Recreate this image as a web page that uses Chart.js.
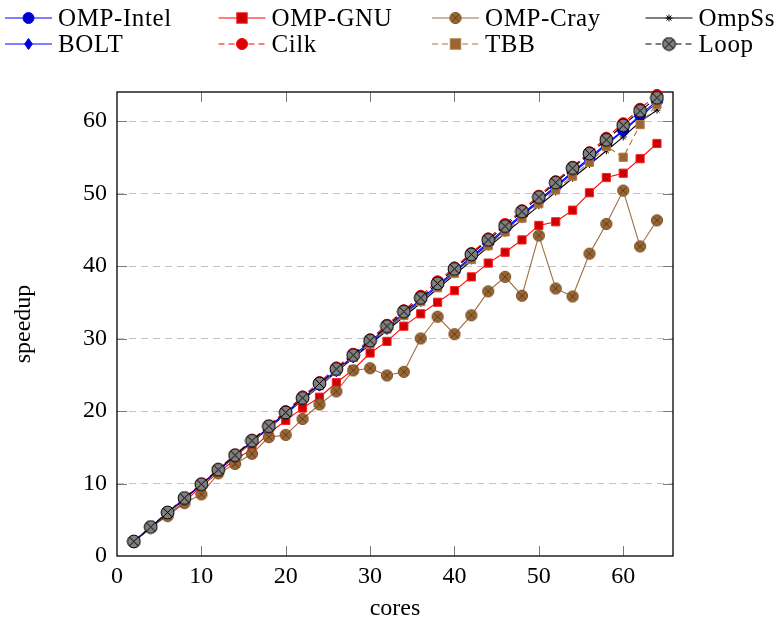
<!DOCTYPE html>
<html>
<head>
<meta charset="utf-8">
<script src="https://cdn.jsdelivr.net/npm/chart.js@4.4.1/dist/chart.umd.min.js"></script>
<style>
    body { margin: 0; background: #fff; }
</style>
</head>
<body>
<canvas id="chart" width="779" height="617"></canvas>
<script>
var CORES = [2, 4, 6, 8, 10, 12, 14, 16, 18, 20, 22, 24, 26, 28, 30, 32,
    34, 36, 38, 40, 42, 44, 46, 48, 50, 52, 54, 56, 58, 60, 62, 64];

var OMP_INTEL = [2.0, 4.0, 6.0, 7.9, 9.9, 11.9, 13.9, 15.8, 17.8, 19.8, 21.7, 23.7, 25.6, 27.6, 29.6, 31.5,
    33.5, 35.4, 37.4, 39.3, 41.3, 43.2, 45.2, 47.1, 49.1, 51.0, 53.0, 54.9, 56.9, 58.7, 60.8, 62.8];
var OMP_GNU = [2.0, 4.0, 5.6, 7.5, 9.6, 11.5, 13.3, 14.7, 16.9, 18.7, 20.4, 21.9, 23.9, 25.7, 28.0, 29.6,
    31.7, 33.4, 35.0, 36.6, 38.5, 40.4, 41.9, 43.6, 45.6, 46.1, 47.7, 50.1, 52.2, 52.8, 54.8, 56.9];
var OMP_CRAY = [2.0, 4.0, 5.5, 7.3, 8.5, 11.4, 12.7, 14.1, 16.4, 16.7, 18.9, 20.9, 22.7, 25.6, 25.9, 24.9,
    25.4, 30.0, 33.0, 30.6, 33.2, 36.5, 38.5, 35.9, 44.2, 36.9, 35.8, 41.7, 45.8, 50.4, 42.7, 46.3];
var OMPSS = [2.0, 3.9, 5.9, 7.9, 9.8, 11.8, 13.7, 15.7, 17.6, 19.6, 21.5, 23.4, 25.4, 27.3, 29.2, 31.1,
    33.0, 34.9, 36.9, 38.8, 40.7, 42.6, 44.5, 46.4, 48.3, 50.2, 52.1, 54.0, 55.9, 57.8, 59.9, 61.5];
var BOLT = [2.0, 4.0, 5.9, 7.9, 9.9, 11.8, 13.8, 15.7, 17.7, 19.6, 21.6, 23.5, 25.5, 27.4, 29.4, 31.3,
    33.3, 35.2, 37.2, 39.1, 41.1, 43.0, 45.0, 46.9, 48.9, 50.8, 52.8, 54.7, 56.7, 58.6, 60.6, 62.5];
var CILK = [2.0, 4.0, 6.0, 8.0, 10.0, 12.0, 14.0, 16.0, 18.0, 20.0, 22.0, 24.0, 26.0, 27.9, 29.9, 31.9,
    33.9, 35.9, 37.9, 39.8, 41.8, 43.8, 45.8, 47.7, 49.7, 51.7, 53.7, 55.7, 57.7, 59.7, 61.7, 63.6];
var TBB = [2.0, 4.0, 5.9, 7.9, 9.9, 11.8, 13.8, 15.7, 17.7, 19.6, 21.6, 23.5, 25.5, 27.4, 29.3, 31.3,
    33.2, 35.1, 37.0, 39.0, 40.9, 42.8, 44.7, 46.6, 48.6, 50.5, 52.4, 54.3, 56.5, 55.0, 59.5, 62.3];
var LOOP = [2.0, 4.0, 6.0, 8.0, 9.9, 11.9, 13.9, 15.9, 17.9, 19.8, 21.8, 23.8, 25.8, 27.7, 29.7, 31.7,
    33.7, 35.6, 37.6, 39.6, 41.6, 43.6, 45.5, 47.5, 49.5, 51.5, 53.5, 55.5, 57.4, 59.4, 61.4, 63.2];

var X_TICKS = [0, 10, 20, 30, 40, 50, 60];
var Y_TICKS = [0, 10, 20, 30, 40, 50, 60];

var FONT = "'Liberation Serif', 'Times New Roman', serif";

// circle with a cross inside (pgfplots otimes)
function otimes(r, fill, edge, cross) {
    var c = document.createElement('canvas');
    c.width = c.height = Math.ceil(2 * r + 2);
    var g = c.getContext('2d');
    var m = c.width / 2;
    g.beginPath();
    g.arc(m, m, r, 0, Math.PI * 2);
    g.fillStyle = fill;
    g.fill();
    g.lineWidth = 1;
    g.strokeStyle = edge;
    g.stroke();
    var d = r * 0.68;
    g.beginPath();
    g.moveTo(m - d, m - d); g.lineTo(m + d, m + d);
    g.moveTo(m - d, m + d); g.lineTo(m + d, m - d);
    g.strokeStyle = cross;
    g.stroke();
    return c;
}

var crayMark = otimes(5.6, '#996633', '#7d5228', '#5e3c1c');
var loopMark = otimes(6.4, '#808080', '#000000', '#000000');

function pts(ys) {
    return CORES.map(function (x, i) { return {x: x, y: ys[i]}; });
}

var series = [
    {label: 'OMP-Intel', data: OMP_INTEL, color: '#0000ff', fill: '#0000cc', edge: '#0000ff', style: 'circle', r: 5.5, dash: []},
    {label: 'OMP-GNU', data: OMP_GNU, color: '#ff0000', fill: '#cc0000', edge: '#ff2020', style: 'rect', r: 5.8, dash: []},
    {label: 'OMP-Cray', data: OMP_CRAY, color: '#9f6d3c', fill: '#996633', edge: '#996633', style: crayMark, r: 6, dash: []},
    {label: 'OmpSs', data: OMPSS, color: '#000000', fill: '#000000', edge: '#000000', style: 'star', r: 3.5, dash: []},
    {label: 'BOLT', data: BOLT, color: '#0000ff', fill: '#0000cc', edge: '#0000ff', style: 'rectRot', r: 5.5, dash: []},
    {label: 'Cilk', data: CILK, color: '#ff0000', fill: '#dd0000', edge: '#ff0000', style: 'circle', r: 5.5, dash: [6, 4]},
    {label: 'TBB', data: TBB, color: '#a8743f', fill: '#996633', edge: '#b07a45', style: 'rect', r: 5.8, dash: [6, 4]},
    {label: 'Loop', data: LOOP, color: '#000000', fill: '#808080', edge: '#000000', style: loopMark, r: 6, dash: [6, 4]}
];

var datasets = series.map(function (s, i) {
    return {
        label: s.label,
        data: pts(s.data),
        borderColor: s.color,
        borderWidth: 1.1,
        borderDash: s.dash,
        backgroundColor: s.fill,
        pointStyle: s.style,
        pointRadius: s.r,
        pointBackgroundColor: s.fill,
        pointBorderColor: s.edge,
        pointBorderWidth: 1,
        pointHoverRadius: s.r,
        tension: 0,
        fill: false,
        clip: false,
        order: series.length - i
    };
});

function drawMark(ctx, s, x, y) {
    ctx.save();
    ctx.setLineDash([]);
    ctx.fillStyle = s.fill;
    ctx.strokeStyle = s.edge;
    ctx.lineWidth = 1;
    var r = s.r;
    if (typeof s.style !== 'string') {
        ctx.drawImage(s.style, x - s.style.width / 2, y - s.style.height / 2);
    } else if (s.style === 'circle') {
        ctx.beginPath(); ctx.arc(x, y, r, 0, Math.PI * 2); ctx.fill(); ctx.stroke();
    } else if (s.style === 'rect') {
        var h = r * 0.9;
        ctx.fillRect(x - h, y - h, 2 * h, 2 * h); ctx.strokeRect(x - h, y - h, 2 * h, 2 * h);
    } else if (s.style === 'rectRot') {
        ctx.beginPath();
        ctx.moveTo(x, y - r); ctx.lineTo(x + r * 0.7, y); ctx.lineTo(x, y + r); ctx.lineTo(x - r * 0.7, y);
        ctx.closePath(); ctx.fill(); ctx.stroke();
    } else if (s.style === 'star') {
        ctx.beginPath();
        for (var k = 0; k < 4; k++) {
            var a = k * Math.PI / 4;
            ctx.moveTo(x - r * Math.cos(a), y - r * Math.sin(a));
            ctx.lineTo(x + r * Math.cos(a), y + r * Math.sin(a));
        }
        ctx.stroke();
    }
    ctx.restore();
}

// legend in 4 columns on top, frame and inward ticks
var decor = {
    id: 'decor',
    beforeDatasetsDraw: function (chart) {
        var ctx = chart.ctx;
        var a = chart.chartArea;
        var xs = chart.scales.x, ys = chart.scales.y;
        ctx.save();
        ctx.strokeStyle = '#7a7a7a';
        ctx.lineWidth = 1;
        ctx.beginPath();
        X_TICKS.forEach(function (v) {
            if (v === 0) return;
            var px = Math.round(xs.getPixelForValue(v)) + 0.5;
            ctx.moveTo(px, a.bottom); ctx.lineTo(px, a.bottom - 10);
            ctx.moveTo(px, a.top); ctx.lineTo(px, a.top + 10);
        });
        Y_TICKS.forEach(function (v) {
            if (v === 0) return;
            var py = Math.round(ys.getPixelForValue(v)) + 0.5;
            ctx.moveTo(a.left, py); ctx.lineTo(a.left + 10, py);
            ctx.moveTo(a.right, py); ctx.lineTo(a.right - 10, py);
        });
        ctx.stroke();
        ctx.strokeStyle = '#000';
        ctx.lineWidth = 1.3;
        ctx.strokeRect(a.left, a.top, a.right - a.left, a.bottom - a.top);
        ctx.restore();
    },
    afterDraw: function (chart) {
        var ctx = chart.ctx;
        ctx.save();
        ctx.font = '25px ' + FONT;
        ctx.letterSpacing = '0.6px';
        ctx.textBaseline = 'middle';
        ctx.fillStyle = '#000';
        series.forEach(function (s, i) {
            var x0 = 5 + (i % 4) * 213.5;
            var y0 = 18 + Math.floor(i / 4) * 26;
            ctx.strokeStyle = s.color;
            ctx.lineWidth = 1.1;
            ctx.setLineDash(s.dash);
            ctx.beginPath();
            ctx.moveTo(x0, y0); ctx.lineTo(x0 + 47, y0);
            ctx.stroke();
            drawMark(ctx, s, x0 + 23.5, y0);
            ctx.fillText(s.label, x0 + 53, y0 + 1);
        });
        ctx.restore();
    }
};

new Chart(document.getElementById('chart'), {
    type: 'line',
    data: {datasets: datasets},
    options: {
        responsive: false,
        animation: false,
        events: [],
        layout: {padding: {top: 92, right: 106, bottom: 0, left: 0}},
        plugins: {legend: {display: false}, tooltip: {enabled: false}},
        scales: {
            x: {
                type: 'linear',
                min: 0,
                max: 65.9,
                afterFit: function (s) { s.height = 61; },
                afterBuildTicks: function (s) { s.ticks = X_TICKS.map(function (v) { return {value: v}; }); },
                ticks: {stepSize: 10, padding: 6, color: '#000', font: {family: FONT, size: 24}, maxRotation: 0},
                grid: {display: false, drawTicks: false},
                border: {display: false},
                title: {display: true, text: 'cores', color: '#000', font: {family: FONT, size: 24, lineHeight: 1}, padding: {top: 0, bottom: -4}}
            },
            y: {
                type: 'linear',
                min: 0,
                max: 64,
                afterFit: function (s) { s.width = 117; },
                afterBuildTicks: function (s) { s.ticks = Y_TICKS.map(function (v) { return {value: v}; }); },
                ticks: {stepSize: 10, padding: 10, color: '#000', font: {family: FONT, size: 24}},
                grid: {
                    drawTicks: false,
                    lineWidth: 1,
                    color: function (c) { return c.tick && c.tick.value === 0 ? 'rgba(0,0,0,0)' : '#c4c4c4'; }
                },
                border: {display: false, dash: [7, 5]},
                title: {display: true, text: 'speedup', color: '#000', font: {family: FONT, size: 24, lineHeight: 1}, padding: {top: 12, bottom: 0}}
            }
        }
    },
    plugins: [decor]
});
</script>
</body>
</html>
